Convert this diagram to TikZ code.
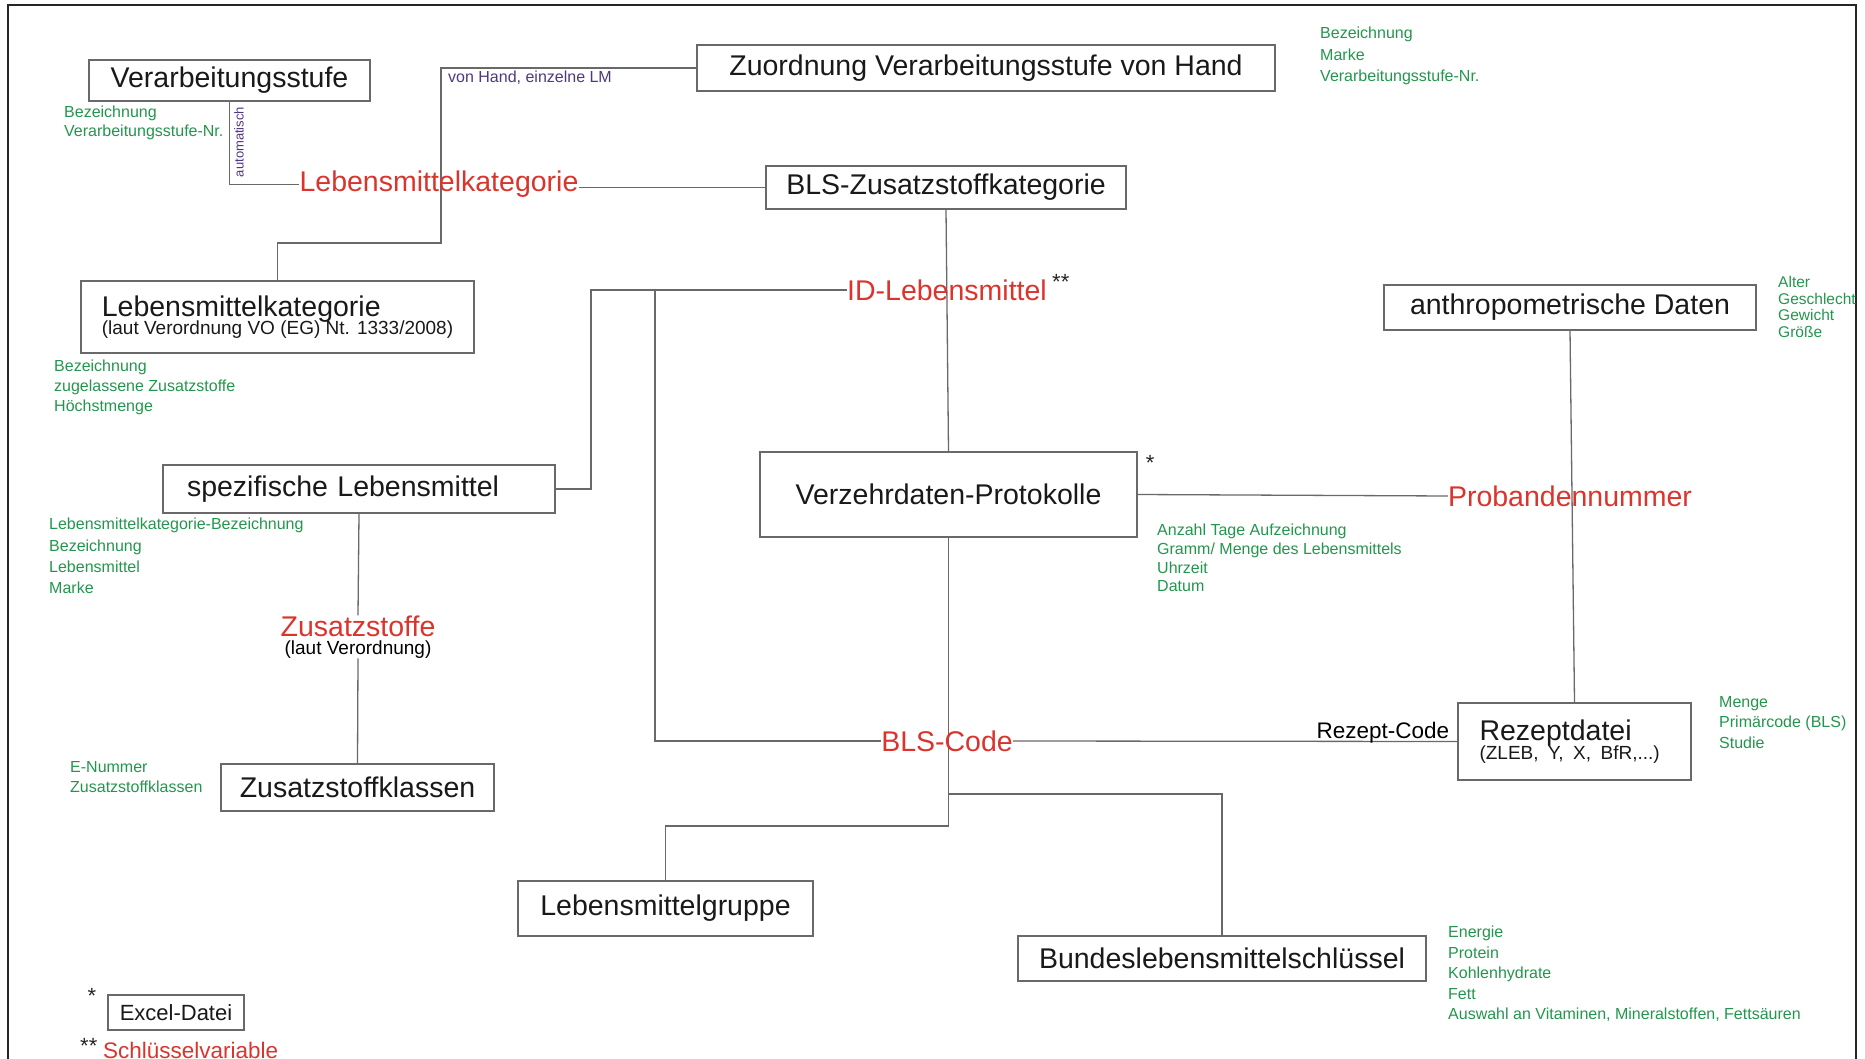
\documentclass[tikz,border=0pt]{standalone}
\usepackage{fontspec}
\setmainfont{Liberation Sans}
\usepackage{tikz}
\usetikzlibrary{positioning, backgrounds, calc}
\usepackage{xcolor}
\definecolor{attrgreen}{RGB}{34,150,76}
\definecolor{keyred}{RGB}{218,52,44}
\definecolor{notepurple}{RGB}{80,55,130}
\definecolor{linegray}{RGB}{105,105,105}
\tikzset{
  basebox/.style={
    rectangle, draw=linegray, line width=1.3pt, text=black!90, inner sep=0pt,
    font=\fontsize{28.5}{32}\selectfont
  },
  entitybox/.style={basebox, align=center},
  keylabel/.style={inner sep=0pt, text=keyred, font=\fontsize{28.5}{32}\selectfont},
  attrlist/.style={inner sep=0pt, anchor=north west, align=left, text=attrgreen, font=\fontsize{16}{#1}\selectfont},
  attrlist/.default=20,
  notelabel/.style={inner sep=0pt, text=notepurple, font=\fontsize{16}{18}\selectfont},
  starnote/.style={inner sep=0pt, text=black!85, font=\fontsize{22}{22}\selectfont},
  connline/.style={draw=linegray, line width=1.3pt},
  outerframe/.style={draw=black!85, line width=1.5pt}
}

\begin{document}
\begin{tikzpicture}[x=1pt, y=-1pt]
  \useasboundingbox (0,0) rectangle (1865,1059);

  % Tabellen
  \node[entitybox, minimum width=281pt, minimum height=41pt] (verarb) at (229.5,80.5) {Verarbeitungsstufe};
  \node[entitybox, minimum width=578pt, minimum height=46pt] (zuord) at (986,68) {Zuordnung Verarbeitungsstufe von Hand};
  \node[entitybox, minimum width=360pt, minimum height=43pt] (blskat) at (946,187.5) {BLS-Zusatzstoffkategorie};
  \node[entitybox, align=left, minimum width=393pt, minimum height=72pt,
        font=\fontsize{28.5}{18}\selectfont] (lmkatvo) at (277.5,317)
        {Lebensmittelkategorie\\[-3pt]{\fontsize{19}{18}\selectfont (laut Verordnung VO (EG) Nt. 1333/2008)}};
  \node[entitybox, align=left, text width=344pt, inner xsep=24pt, minimum height=48pt] (spezlm) at (359,489) {spezifische Lebensmittel};
  \node[entitybox, minimum width=377pt, minimum height=85pt] (verzehr) at (948.5,494.5) {Verzehrdaten-Protokolle};
  \node[entitybox, minimum width=372pt, minimum height=45pt] (anthro) at (1570,307.5) {anthropometrische Daten};
  \node[entitybox, minimum width=273pt, minimum height=47pt] (zklassen) at (357.5,787.5) {Zusatzstoffklassen};
  \node[entitybox, align=left, text width=190pt, inner xsep=21.5pt, minimum height=77pt,
        font=\fontsize{28.5}{20}\selectfont] (rezept) at (1574.5,741.5)
        {Rezeptdatei\\[-1pt]{\fontsize{19}{20}\selectfont (ZLEB, Y, X, BfR,...)}};
  \node[entitybox, minimum width=295pt, minimum height=55pt] (lmgruppe) at (665.5,908.5) {Lebensmittelgruppe};
  \node[entitybox, minimum width=408pt, minimum height=45pt] (bls) at (1222,958.5) {Bundeslebensmittelschlüssel};
  \node[entitybox, minimum width=136pt, minimum height=35pt, font=\fontsize{22}{24}\selectfont] (excel) at (176,1012.5) {Excel-Datei};

  % Schluesselvariablen
  \node[keylabel] (lmkat) at (439,184.5) {Lebensmittelkategorie};
  \node[keylabel] (idlm) at (947,290) {ID-Lebensmittel};
  \node[keylabel] (prob) at (1570,496) {Probandennummer};
  \node[keylabel] (blscode) at (947,741) {BLS-Code};
  \node[keylabel] (zusatz) at (358,626) {Zusatzstoffe};
  \node[inner sep=0pt, font=\fontsize{19}{20}\selectfont, below=3.5pt of zusatz] (zusatzvo) {(laut Verordnung)};
  \node[inner sep=0pt, font=\fontsize{22.5}{24}\selectfont, anchor=base east] (rezcode)
        at ([xshift=-8pt,yshift=3pt]rezept.west) {Rezept-Code};

  % Hinweise
  \node[notelabel, anchor=west] (handnote) at (448,78) {von Hand, einzelne LM};
  \node[notelabel, font=\fontsize{13}{13}\selectfont, rotate=90] (automnote) at (239,142) {automatisch};

  % Attribute
  \node[attrlist=19] (verarbattr) at (64,106) {Bezeichnung\\Verarbeitungsstufe-Nr.};
  \node[attrlist=21.5] (zuordattr) at (1320,27) {Bezeichnung\\Marke\\Verarbeitungsstufe-Nr.};
  \node[attrlist=20] (lmkatattr) at (54,360) {Bezeichnung\\zugelassene Zusatzstoffe\\Höchstmenge};
  \node[attrlist=21.3] (spezattr) at (49,518) {Lebensmittelkategorie-Bezeichnung\\Bezeichnung\\Lebensmittel\\Marke};
  \node[attrlist=20] (zklassattr) at (70,761) {E-Nummer\\Zusatzstoffklassen};
  \node[attrlist=18.7] (verzattr) at (1157,524) {Anzahl Tage Aufzeichnung\\Gramm/ Menge des Lebensmittels\\Uhrzeit\\Datum};
  \node[attrlist, font=\fontsize{15.5}{16.7}\selectfont] (anthroattr) at (1778,276) {Alter\\Geschlecht\\Gewicht\\Größe};
  \node[attrlist=20.5] (rezattr) at (1719,696) {Menge\\Primärcode (BLS)\\Studie};
  \node[attrlist=20.5] (blsattr) at (1448,926) {Energie\\Protein\\Kohlenhydrate\\Fett\\Auswahl an Vitaminen, Mineralstoffen, Fettsäuren};

  % Sternchen und Legende
  \node[starnote, anchor=base west] (verzstar) at ([xshift=8pt,yshift=-19.5pt]verzehr.north east) {*};
  \node[starnote, anchor=base west] (idstar) at ([xshift=5pt,yshift=11pt]idlm.base east) {**};
  \node[starnote, anchor=base west] (excelstar) at ([xshift=-20pt,yshift=-9.5pt]excel.north west) {*};
  \node[starnote, anchor=base west] (keystar) at (80,1053) {**};
  \node[keylabel, font=\fontsize{22.5}{24}\selectfont, anchor=base west] (keynote) at (103,1058) {Schlüsselvariable};

  \coordinate (handknick) at (441,243);
  \coordinate (idknick) at (591,290);
  \coordinate (idgabel) at (655,290);
  \coordinate (bcgabel) at (948.5,826);
  \coordinate (bcast) at (948.5,794);

  \begin{scope}[on background layer]
    \draw[outerframe] (8,5) rectangle (1856,1085);
    \draw[connline] (verarb.south) |- (lmkat.west);
    \draw[connline] (zuord.west) -| (handknick) -| (lmkatvo.north);
    \draw[connline] (lmkat.east |- blskat.west) -- (blskat.west);
    \draw[connline] (blskat.south) -- (verzehr.north);
    \draw[connline] (idlm.west) -- (idknick) |- (spezlm.east);
    \draw[connline] (idgabel) |- (blscode.west);
    \draw[connline] (blscode.east) -- (rezept.west);
    \draw[connline] (verzehr.east) -- (prob.west);
    \draw[connline] (anthro.south) -- (rezept.north);
    \draw[connline] (verzehr.south) -- (bcgabel) -| (lmgruppe.north);
    \draw[connline] (bcast) -| (bls.north);
    \draw[connline] (spezlm.south) -- (zusatz.north);
    \draw[connline] (zusatzvo.south) -- (zklassen.north);
  \end{scope}
\end{tikzpicture}
\end{document}
